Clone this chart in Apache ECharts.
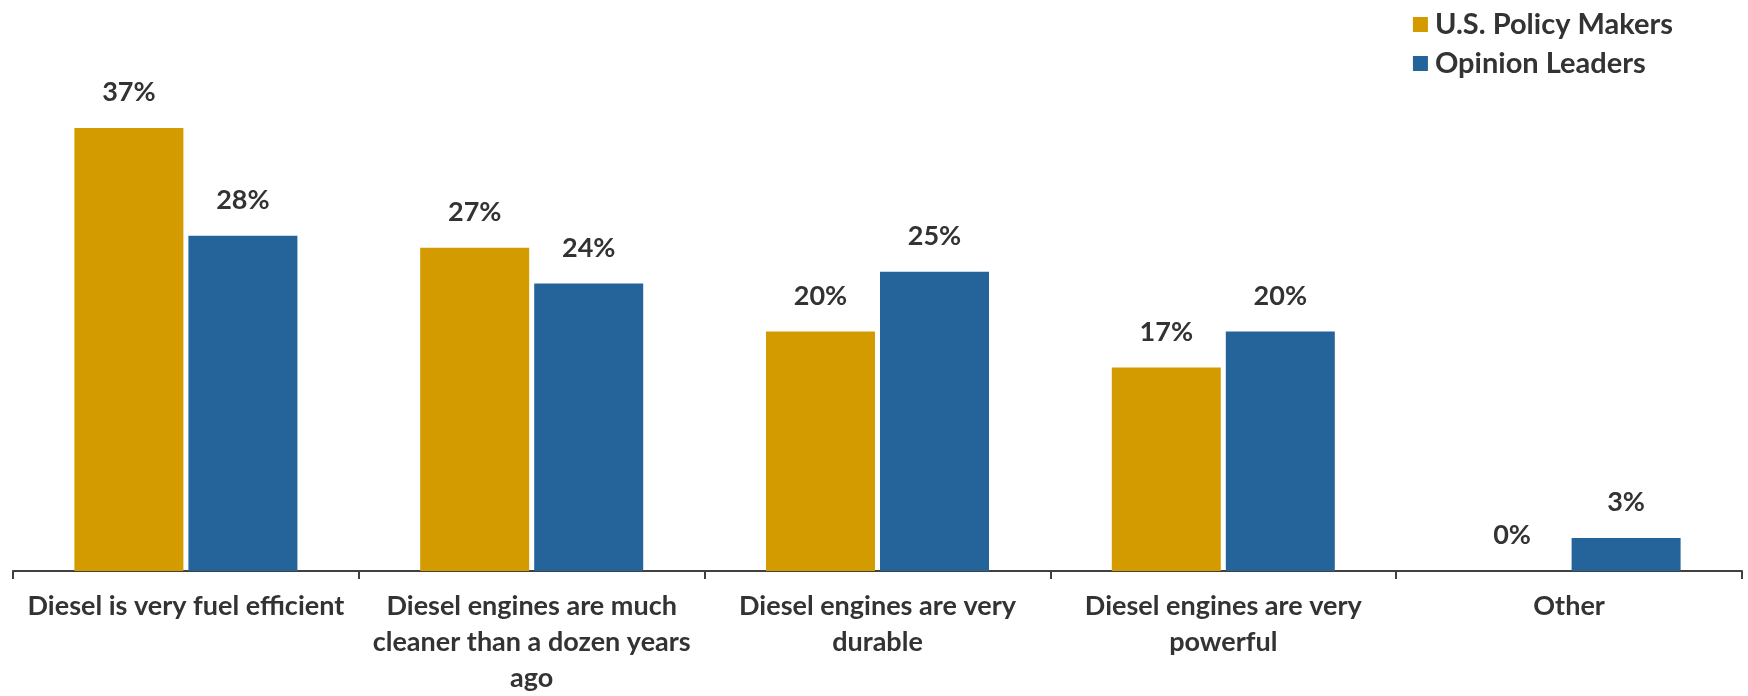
<!DOCTYPE html>
<html>
<head>
<meta charset="utf-8">
<script src="https://cdn.jsdelivr.net/npm/echarts@6/dist/echarts.min.js"></script>
<style>
html,body{margin:0;padding:0;background:#fff;}
#chart{width:1748px;height:696px;}
</style>
</head>
<body>
<div id="chart"></div>
<script>
var categories = [
  'Diesel is very fuel efficient',
  'Diesel engines are much\ncleaner than a dozen years\nago',
  'Diesel engines are very\ndurable',
  'Diesel engines are very\npowerful',
  'Other'
];
var seriesNames = ['U.S. Policy Makers', 'Opinion Leaders'];
var policyMakers = [37, 27, 20, 17, 0];
var opinionLeaders = [28, 24, 25, 20, 2.75];

var FONT = 'Lato';
var TEXT = '#333333';

var chart = echarts.init(document.getElementById('chart'), null, {renderer: 'canvas'});

function labelCfg() {
  return {
    show: true,
    position: 'top',
    distance: 22,
    fontFamily: FONT,
    fontWeight: 'bold',
    fontSize: 27,
    color: TEXT,
    formatter: function (p) { return Math.round(p.value) + '%'; }
  };
}

chart.setOption({
  animation: false,
  legend: {
    orient: 'vertical',
    right: 70,
    top: 5,
    itemWidth: 15,
    itemHeight: 15,
    itemGap: 10,
    icon: 'rect',
    textStyle: {fontFamily: FONT, fontWeight: 'bold', fontSize: 29, color: TEXT, padding: [0, 0, 0, 2]},
    data: seriesNames
  },
  grid: {left: 13, right: 6, top: 92, bottom: 116, containLabel: false},
  xAxis: {
    type: 'category',
    data: categories,
    axisLine: {lineStyle: {color: '#404040', width: 2}},
    axisTick: {show: true, length: 8, lineStyle: {color: '#404040', width: 2}},
    axisLabel: {
      interval: 0,
      margin: 17,
      fontFamily: FONT,
      fontWeight: 'bold',
      fontSize: 27,
      lineHeight: 36,
      color: TEXT
    }
  },
  yAxis: {
    type: 'value',
    min: 0,
    max: 40,
    show: false,
    splitLine: {show: false}
  },
  series: [
    {
      name: seriesNames[0],
      type: 'bar',
      data: policyMakers,
      barWidth: 109,
      barGap: '4.6%',
      itemStyle: {color: '#D39B00'},
      label: labelCfg()
    },
    {
      name: seriesNames[1],
      type: 'bar',
      data: opinionLeaders,
      barWidth: 109,
      itemStyle: {color: '#25649A'},
      label: labelCfg()
    }
  ]
});
</script>
</body>
</html>
